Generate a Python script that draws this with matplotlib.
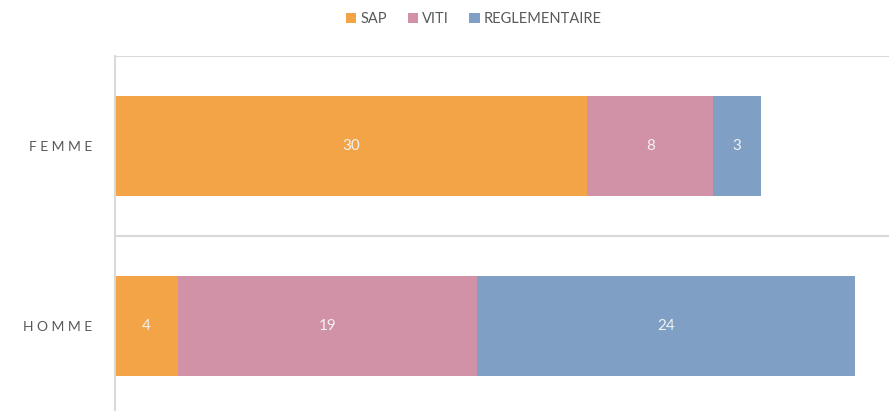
import matplotlib
matplotlib.use("Agg")
import matplotlib.pyplot as plt

plt.rcParams['font.family'] = ['Lato', 'DejaVu Sans']

categories = ["HOMME", "FEMME"]
cat_labels = ["H O M M E", "F E M M E"]
series_names = ["SAP", "VITI", "REGLEMENTAIRE"]
sap = [4, 30]
viti = [19, 8]
reglementaire = [24, 3]
colors = ["#F2A447", "#D191A6", "#809FC5"]

fig = plt.figure(figsize=(8.89, 4.11), dpi=100)
# plot area runs past the right and bottom edges of the picture
ax = fig.add_axes([114.5 / 889, 1 - 416 / 411, 788 / 889, 360 / 411])

ypos = list(range(len(categories)))
left = [0] * len(categories)
handles = []
for name, vals, col in zip(series_names, [sap, viti, reglementaire], colors):
    bars = ax.barh(ypos, vals, left=left, height=0.56, color=col, label=name)
    handles.append(bars)
    for y, v, l in zip(ypos, vals, left):
        ax.text(l + v / 2, y, str(v), ha="center", va="center",
                color="#F2F2F2", fontsize=11)
    left = [a + b for a, b in zip(left, vals)]

ax.set_xlim(0, 50)
ax.set_ylim(-0.5, 1.5)
ax.set_xticks([])
ax.set_yticks(ypos)
ax.set_yticklabels(cat_labels, fontsize=10, color="#595959")
ax.tick_params(axis="y", length=0, pad=16)

for y in [-0.5, 0.5, 1.5]:
    ax.axhline(y, color="#D9D9D9", lw=1.5, zorder=0)
for s in ["top", "right", "bottom"]:
    ax.spines[s].set_visible(False)
ax.spines["left"].set_color("#D9D9D9")
ax.spines["left"].set_linewidth(1.5)

fig.legend(handles=handles, labels=series_names, loc="center",
           bbox_to_anchor=(474 / 889, 1 - 19 / 411), ncol=3, frameon=False,
           fontsize=10.5, labelcolor="#595959", handlelength=0.7,
           handleheight=0.7, handletextpad=0.3, columnspacing=1.4)

fig.savefig("out.png", dpi=100)
